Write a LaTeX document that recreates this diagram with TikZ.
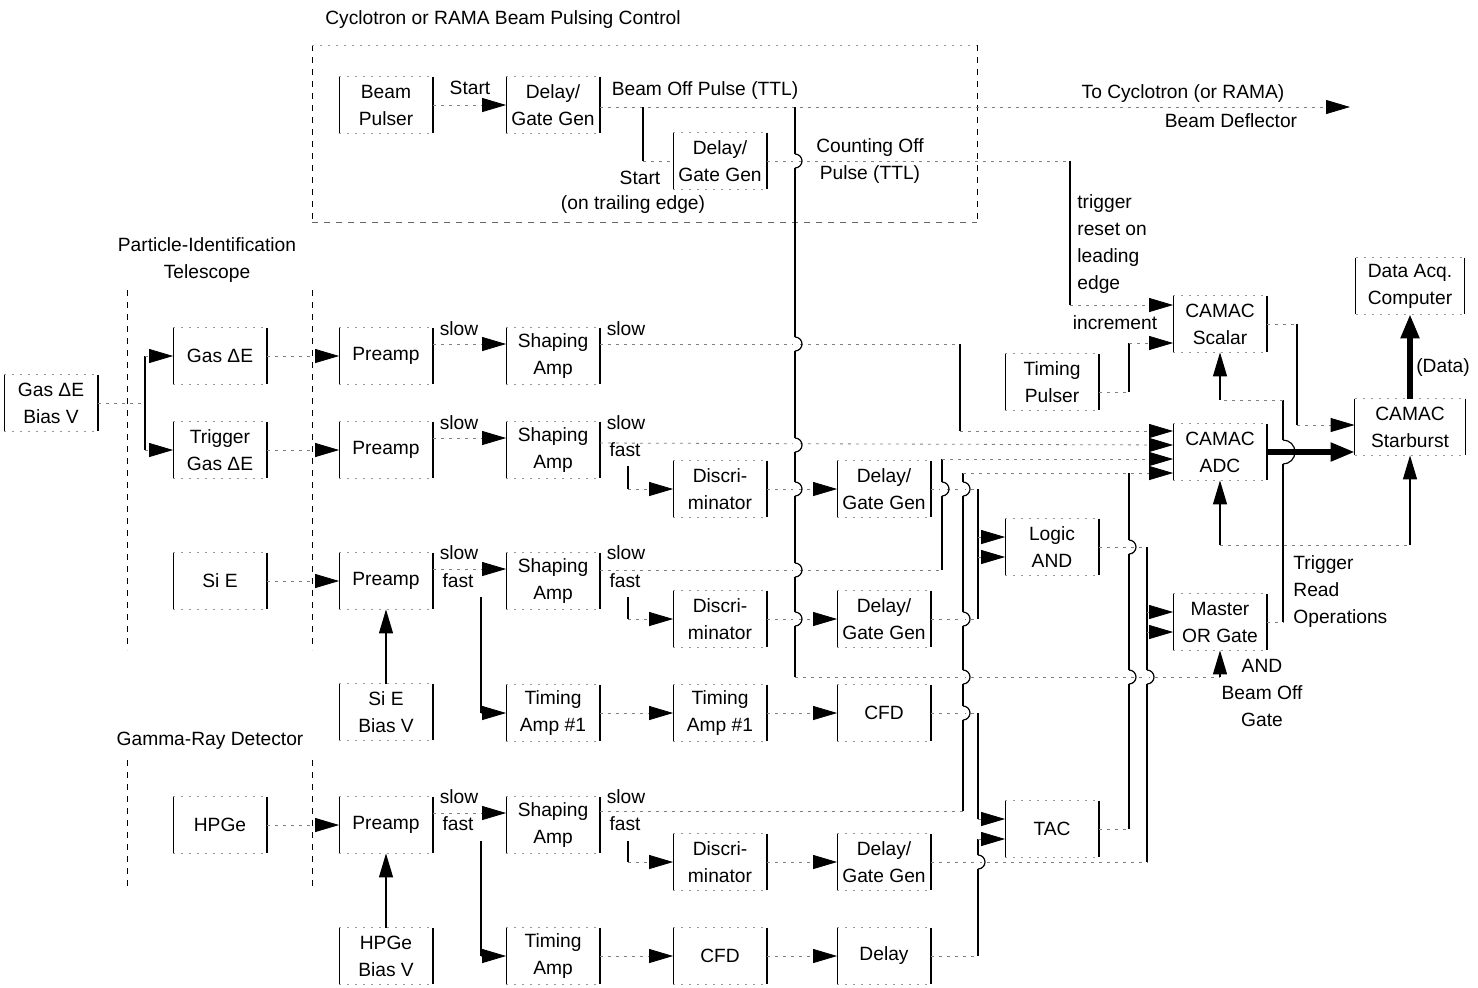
\documentclass[tikz,border=0pt]{standalone}
\usepackage{fontspec}
\setmainfont{Liberation Sans}
\usetikzlibrary{arrows.meta,calc}
\newcommand\jmp[2]{\fill[white] (#1-2,#2-7) rectangle (#1+2,#2+7);
  \draw[bus] (#1,#2-7) arc[start angle=-90,end angle=90,radius=7];}
\begin{document}
\begin{tikzpicture}[x=0.5pt,y=-0.5pt,
  every node/.style={font=\fontsize{9.6}{13.5}\selectfont, inner sep=0pt},
  side/.style={draw=black,line width=0.6pt},
  topbot/.style={draw=black!40,dash pattern=on 1pt off 3pt,line width=0.4pt},
  blk/.style={minimum width=46.5pt,minimum height=28pt,align=center,
    append after command={
      (\tikzlastnode.north west) edge[side] (\tikzlastnode.south west)
      (\tikzlastnode.north east) edge[side] (\tikzlastnode.south east)
      (\tikzlastnode.north west) edge[topbot] (\tikzlastnode.north east)
      (\tikzlastnode.south west) edge[topbot] (\tikzlastnode.south east)}},
  lbl/.style={align=center},
  lbll/.style={align=left,anchor=west},
  conn/.style={draw=black!50,dash pattern=on 1.5pt off 2.5pt,line width=0.4pt},
  bus/.style={draw=black,line width=0.6pt},
  arr/.style={-{Triangle[length=12pt,width=7pt,black]}},
  fat/.style={draw=black,line width=2.6pt,-{Triangle[length=12pt,width=9pt]}},
  region/.style={draw=black,dash pattern=on 3pt off 3pt,line width=0.45pt}
]
\useasboundingbox (0,0) rectangle (1478,987);

% ---------- regions ----------
\draw[region] (312,45) -- (312,222);
\draw[region] (977,45) -- (977,222);
\draw[topbot] (312,45) -- (977,45);
\draw[region,draw=black!60] (312,222) -- (977,222);
\draw[region] (127,290) -- (127,650);
\draw[region] (312,290) -- (312,650);
\draw[region] (127,760) -- (127,890);
\draw[region] (312,760) -- (312,890);

% ---------- labels ----------
\node[lbl] (tPulse) at (503,20) {Cyclotron or RAMA Beam Pulsing Control};
\node[lbl] (tPID) at (207,260) {Particle-Identification\\Telescope};
\node[lbl] (tGam) at (210,741) {Gamma-Ray Detector};
\node[lbl] (lStart1) at (470,88) {Start};
\node[lbl] (lBOP) at (705,91) {Beam Off Pulse (TTL)};
\node[lbl] (lStart2) at (640,178) {Start};
\node[lbl] (lTrail) at (633,205) {(on trailing edge)};
\node[lbl] (lCOP) at (870,161) {Counting Off\\Pulse (TTL)};
\node[lbl] (lTo1) at (1183,94) {To Cyclotron (or RAMA)};
\node[lbl] (lTo2) at (1231,121) {Beam Deflector};
\node[lbll] (lTrig) at (1077,244) {trigger\\reset on\\leading\\edge};
\node[lbl] (lInc) at (1115,323) {increment};
\node[lbl] (lData) at (1443,368) {(Data)};
\node[lbll] (lTRO) at (1293,592) {Trigger\\Read\\Operations};
\node[lbl] (lAND) at (1262,693) {AND\\Beam Off\\Gate};
\foreach \y/\n in {329/a,423/b,553/c,797/d}{
  \node[lbl] (ps\n) at (459,\y) {slow};
  \node[lbl] (ss\n) at (626,\y) {slow};}
\foreach \y/\n in {581/c,824/d}{
  \node[lbl] (pf\n) at (458,\y) {fast};}
\foreach \y/\n in {450/b,581/c,824/d}{
  \node[lbl] (sf\n) at (625,\y) {fast};}

% ---------- blocks ----------
\node[blk] (bpul) at (386,105) {Beam\\Pulser};
\node[blk] (dgA) at (553,105) {Delay/\\Gate Gen};
\node[blk] (dgB) at (720,161) {Delay/\\Gate Gen};
\node[blk] (biasG) at (51,403) {Gas ΔE\\Bias V};
\node[blk] (gas) at (220,356) {Gas ΔE};
\node[blk] (trig) at (220,450) {Trigger\\Gas ΔE};
\node[blk] (sie) at (220,581) {Si E};
\node[blk] (hpge) at (220,825) {HPGe};
\node[blk] (pa1) at (386,356) {Preamp};
\node[blk] (pa2) at (386,450) {Preamp};
\node[blk] (pa3) at (386,581) {Preamp};
\node[blk] (pa4) at (386,825) {Preamp};
\node[blk] (sieb) at (386,712) {Si E\\Bias V};
\node[blk] (hpgeb) at (386,956) {HPGe\\Bias V};
\node[blk] (sa1) at (553,356) {Shaping\\Amp};
\node[blk] (sa2) at (553,450) {Shaping\\Amp};
\node[blk] (sa3) at (553,581) {Shaping\\Amp};
\node[blk] (sa4) at (553,825) {Shaping\\Amp};
\node[blk] (di2) at (720,489) {Discri-\\minator};
\node[blk] (di3) at (720,619) {Discri-\\minator};
\node[blk] (di4) at (720,862) {Discri-\\minator};
\node[blk] (dg2) at (884,489) {Delay/\\Gate Gen};
\node[blk] (dg3) at (884,619) {Delay/\\Gate Gen};
\node[blk] (dg4) at (884,862) {Delay/\\Gate Gen};
\node[blk] (ta1) at (553,713) {Timing\\Amp \#1};
\node[blk] (ta2) at (720,713) {Timing\\Amp \#1};
\node[blk] (cfd1) at (884,713) {CFD};
\node[blk] (ta4) at (553,956) {Timing\\Amp};
\node[blk] (cfd4) at (720,956) {CFD};
\node[blk] (dly4) at (884,956) {Delay};
\node[blk] (tpul) at (1052,382) {Timing\\Pulser};
\node[blk] (and) at (1052,547) {Logic\\AND};
\node[blk] (tac) at (1052,829) {TAC};
\node[blk] (scal) at (1220,324) {CAMAC\\Scalar};
\node[blk] (adc) at (1220,452) {CAMAC\\ADC};
\node[blk] (mor) at (1220,622) {Master\\OR Gate};
\node[blk,minimum width=55pt] (sb) at (1410,427) {CAMAC\\Starburst};
\node[blk,minimum width=54pt] (daq) at (1410,286) {Data Acq.\\Computer};
\coordinate (defl) at (1350,107);

% ---------- beam pulsing ----------
\draw[conn,arr] (bpul.east) -- (dgA.west);
\draw[conn,arr] ($(dgA.east)+(0,2)$) -- (defl);
\draw[bus] (643,107) -- (643,161);
\draw[conn] (643,161) -- (dgB.west);
\draw[bus] (795,107) -- (795,677);
\draw[conn] (dgB.east) -- (1070,161);
\draw[bus] (1070,161) -- (1070,305);
\draw[conn,arr] (1070,305) -- ($(scal.west)+(0,-19)$);

% ---------- detectors ----------
\draw[conn] (biasG.east) -- (145,403);
\draw[bus] (145,356) -- (145,450);
\draw[conn,arr] (145,356) -- (gas.west);
\draw[conn,arr] (145,450) -- (trig.west);
\draw[conn,arr] (gas.east) -- (pa1.west);
\draw[conn,arr] (trig.east) -- (pa2.west);
\draw[conn,arr] (sie.east) -- (pa3.west);
\draw[conn,arr] (hpge.east) -- (pa4.west);
\draw[bus,arr] (sieb.north) -- (pa3.south);
\draw[bus,arr] (hpgeb.north) -- (pa4.south);

% ---------- preamp -> shaping ----------
\foreach \n in {1,2,3,4}{
  \draw[conn,arr] ($(pa\n.east)+(0,-12)$) -- ($(sa\n.west)+(0,-12)$);}
\draw[bus] (481,597) -- (481,713);
\draw[conn,arr] (481,713) -- (ta1.west);
\draw[bus] (481,841) -- (481,956);
\draw[conn,arr] (481,956) -- (ta4.west);

% ---------- shaping fast -> discriminators ----------
\draw[bus] (628,466) -- (628,489);
\draw[conn,arr] (628,489) -- (di2.west);
\draw[bus] (628,597) -- (628,619);
\draw[conn,arr] (628,619) -- (di3.west);
\draw[bus] (628,841) -- (628,862);
\draw[conn,arr] (628,862) -- (di4.west);
\draw[conn,arr] (di2.east) -- (dg2.west);
\draw[conn,arr] (di3.east) -- (dg3.west);
\draw[conn,arr] (di4.east) -- (dg4.west);
\draw[conn,arr] (ta1.east) -- (ta2.west);
\draw[conn,arr] (ta2.east) -- (cfd1.west);
\draw[conn,arr] (ta4.east) -- (cfd4.west);
\draw[conn,arr] (cfd4.east) -- (dly4.west);

% ---------- slow energies -> ADC ----------
\draw[conn] ($(sa1.east)+(0,-12)$) -- (960,344);
\draw[bus] (960,344) -- (960,431);
\draw[conn,arr] (960,431) -- ($(adc.west)+(0,-21)$);
\draw[conn,arr] ($(sa2.east)+(0,-7)$) -- ($(adc.west)+(0,-7)$);
\draw[conn] ($(sa3.east)+(0,-11)$) -- (942,570);
\draw[bus] (942,570) -- (942,459);
\draw[conn,arr] (942,459) -- ($(adc.west)+(0,7)$);
\draw[conn] ($(sa4.east)+(0,-14)$) -- (963,811);
\draw[bus] (963,811) -- (963,473);
\draw[conn,arr] (963,473) -- ($(adc.west)+(0,21)$);

% ---------- Logic AND ----------
\draw[conn] (dg2.east) -- (978,489);
\draw[conn] (dg3.east) -- (978,619);
\draw[bus] (978,489) -- (978,619);
\draw[conn,arr] (978,537) -- ($(and.west)+(0,-10)$);
\draw[conn,arr] (978,557) -- ($(and.west)+(0,10)$);

% ---------- TAC ----------
\draw[conn] (cfd1.east) -- (978,713);
\draw[bus] (978,713) -- (978,819);
\draw[conn,arr] (978,819) -- ($(tac.west)+(0,-10)$);
\draw[conn] (dly4.east) -- (978,956);
\draw[bus] (978,956) -- (978,839);
\draw[conn,arr] (978,839) -- ($(tac.west)+(0,10)$);
\draw[conn] (tac.east) -- (1129,829);
\draw[bus] (1129,829) -- (1129,473);

% ---------- Master OR ----------
\draw[conn] (and.east) -- (1147,547);
\draw[conn] (dg4.east) -- (1147,862);
\draw[bus] (1147,547) -- (1147,862);
\draw[conn,arr] (1147,612) -- ($(mor.west)+(0,-10)$);
\draw[conn,arr] (1147,632) -- ($(mor.west)+(0,10)$);
\draw[conn] (795,677) -- (1220,677);
\draw[bus,arr] (1220,677) -- (mor.south);

% ---------- timing pulser -> scalar increment ----------
\draw[conn] ($(tpul.east)+(0,10)$) -- (1129,392);
\draw[bus] (1129,392) -- (1129,343);
\draw[conn,arr] (1129,343) -- ($(scal.west)+(0,19)$);

% ---------- trigger read operations ----------
\draw[conn] (mor.east) -- (1283,622);
\draw[bus] (1283,622) -- (1283,400);
\draw[conn] (1283,400) -- (1220,400);
\draw[bus,arr] (1220,400) -- (scal.south);
\draw[conn] (1220,545) -- (1410,545);
\draw[bus,arr] (1220,545) -- (adc.south);
\draw[bus,arr] (1410,545) -- (sb.south);
\fill[white] (1281,440) rectangle (1285,464);
\draw[bus] (1283,440) arc[start angle=-90,end angle=90,radius=12];

% ---------- CAMAC ----------
\draw[conn] (scal.east) -- (1297,324);
\draw[bus] (1297,324) -- (1297,425);
\draw[conn,arr] (1297,425) -- ($(sb.west)+(0,-2)$);
\draw[fat] (adc.east) -- ($(sb.west)+(0,25)$);
\draw[fat] (sb.north) -- (daq.south);

% ---------- jumps ----------
\foreach \y in {161,344,445,489,570,619}{\jmp{795}{\y}}
\jmp{942}{489}
\foreach \y in {489,619,677,713}{\jmp{963}{\y}}
\jmp{978}{862}
\jmp{1129}{547}\jmp{1129}{677}
\jmp{1147}{677}
\end{tikzpicture}
\end{document}
